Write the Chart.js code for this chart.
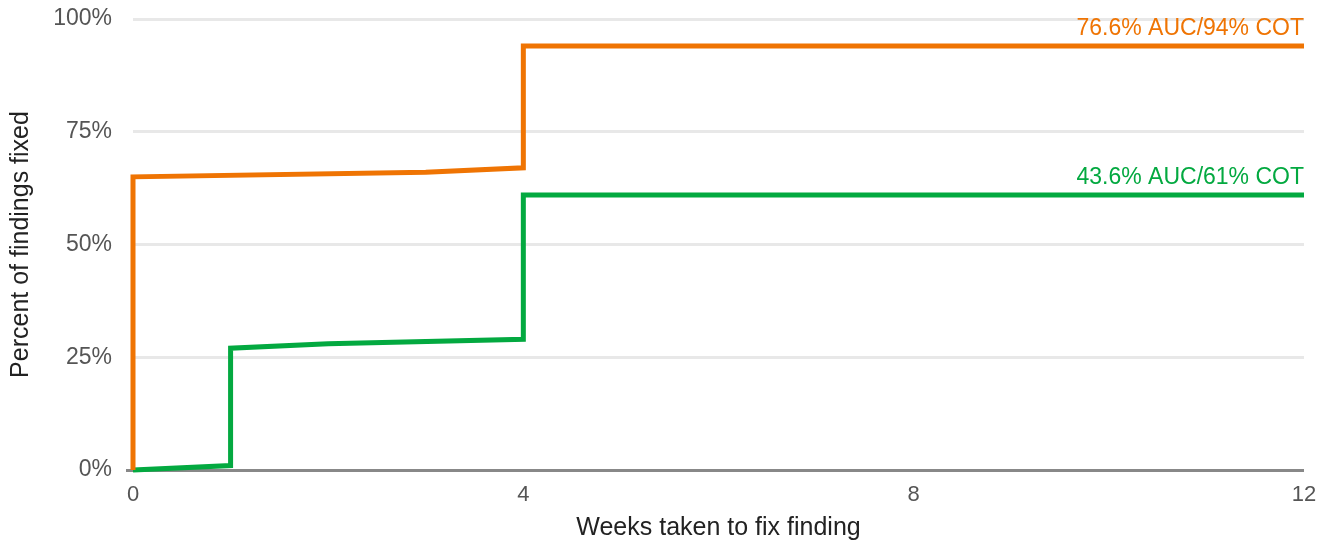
<!DOCTYPE html>
<html>
<head>
<meta charset="utf-8">
<script src="https://cdn.jsdelivr.net/npm/chart.js@4/dist/chart.umd.min.js"></script>
<style>
  html, body { margin: 0; padding: 0; background: #fff; }
  #wrap { width: 1325px; height: 540px; }
</style>
</head>
<body>
<div id="wrap"><canvas id="c" width="1325" height="540"></canvas></div>
<script>
// step points (weeks, percent fixed)
const orangeWeeks = [0, 0, 3, 4, 4, 12];
const orangePct = [0, 65, 66, 67, 94, 94];
const greenWeeks = [0, 1, 1, 2, 4, 4, 12];
const greenPct = [0, 1, 27, 28, 29, 61, 61];
const xTicks = [0, 4, 8, 12];
const yTicks = [0, 25, 50, 75, 100];
const seriesLabels = ['76.6% AUC/94% COT', '43.6% AUC/61% COT'];

const ORANGE = '#ef7403';
const GREEN = '#03a940';
const FONT = '"Liberation Sans", Arial, sans-serif';

const toPoints = (xs, ys) => xs.map((x, i) => ({ x, y: ys[i] }));

// right-aligned label above the last point of each line
const endLabels = {
  id: 'endLabels',
  afterDatasetsDraw(chart) {
    const { ctx } = chart;
    ctx.save();
    ctx.font = '23px ' + FONT;
    ctx.textAlign = 'right';
    ctx.textBaseline = 'alphabetic';
    chart.data.datasets.forEach((ds, i) => {
      const meta = chart.getDatasetMeta(i);
      const last = meta.data[meta.data.length - 1];
      ctx.fillStyle = ds.borderColor;
      ctx.fillText(seriesLabels[i], last.x, last.y - 11);
    });
    ctx.restore();
  }
};

new Chart(document.getElementById('c'), {
  type: 'line',
  data: {
    datasets: [
      { data: toPoints(orangeWeeks, orangePct), borderColor: ORANGE, borderWidth: 5, pointRadius: 0, tension: 0, clip: 6, borderJoinStyle: 'miter', borderCapStyle: 'butt' },
      { data: toPoints(greenWeeks, greenPct), borderColor: GREEN, borderWidth: 5, pointRadius: 0, tension: 0, clip: 6, borderJoinStyle: 'miter', borderCapStyle: 'butt' }
    ]
  },
  options: {
    responsive: false,
    animation: false,
    layout: { padding: { top: 19, right: 21, left: 0, bottom: 0 } },
    plugins: { legend: { display: false }, tooltip: { enabled: false } },
    scales: {
      x: {
        type: 'linear',
        min: 0, max: 12,
        afterBuildTicks: s => { s.ticks = xTicks.map(v => ({ value: v })); },
        afterFit: s => { s.height = 70; },
        grid: { display: false },
        border: { display: false },
        ticks: { color: '#555', font: { family: FONT, size: 22 }, padding: 4, maxRotation: 0 },
        title: { display: true, text: 'Weeks taken to fix finding', color: '#222', font: { family: FONT, size: 25 }, padding: { top: 0, bottom: -3 } }
      },
      y: {
        min: 0, max: 100,
        afterBuildTicks: s => { s.ticks = yTicks.map(v => ({ value: v })); },
        afterFit: s => { s.width = 133; s.paddingTop = 0; s.paddingBottom = 0; },
        grid: {
          lineWidth: 3,
          tickLength: 7,
          color: c => c.tick && c.tick.value === 0 ? '#888' : '#e8e8e8',
          tickColor: c => c.tick && c.tick.value === 0 ? '#888' : 'rgba(0,0,0,0)'
        },
        border: { display: false },
        ticks: { color: '#555', font: { family: FONT, size: 23 }, padding: 14, callback: v => v + '%' },
        title: { display: true, text: 'Percent of findings fixed', color: '#222', font: { family: FONT, size: 25 }, padding: { top: 6, bottom: 4 } }
      }
    }
  },
  plugins: [endLabels]
});
</script>
</body>
</html>
